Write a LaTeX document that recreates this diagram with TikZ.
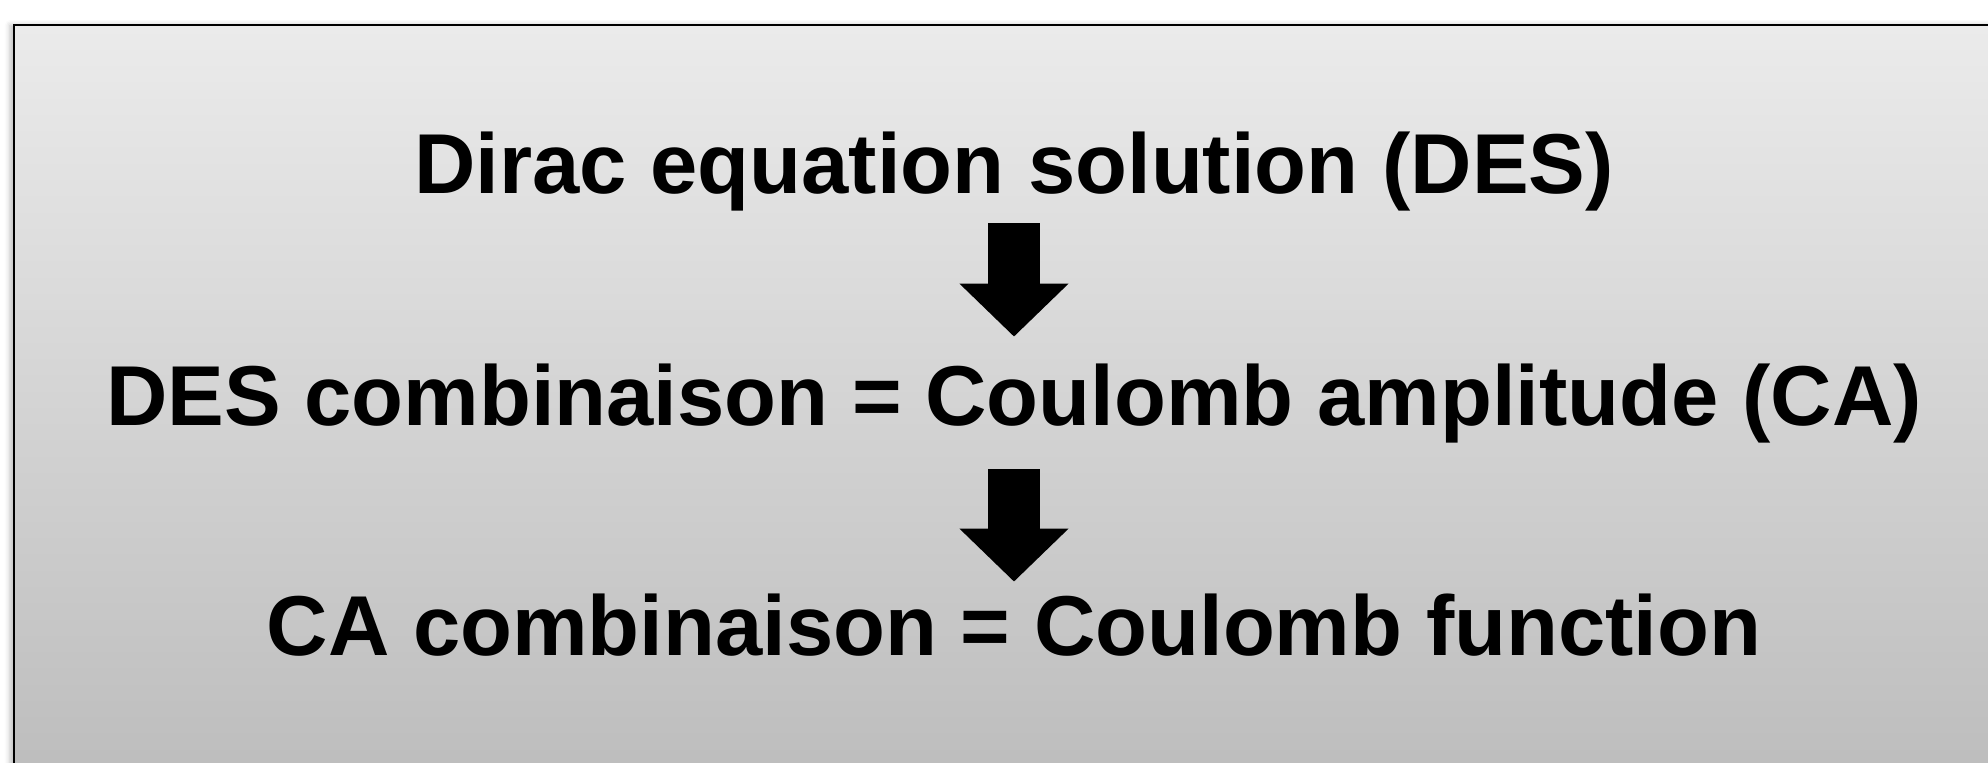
\documentclass[tikz,border=0pt]{standalone}
\usepackage{fontspec}
\setmainfont{Liberation Sans}
\usetikzlibrary{positioning,arrows.meta,shadows.blur}
\definecolor{panelTop}{HTML}{EBEBEB}
\definecolor{panelBottom}{HTML}{BCBCBC}
\definecolor{ink}{HTML}{000000}
\begin{document}
\begin{tikzpicture}[
    x=0.5pt, y=-0.5pt,
    every node/.style={font=\fontsize{42.5}{51}\selectfont\bfseries, text=ink},
    stepline/.style={inner sep=0pt, anchor=base, text height=32pt, text depth=10pt},
    panel/.style={draw=black, line width=1pt, top color=panelTop, bottom color=panelBottom,
                  blur shadow={shadow xshift=-2pt, shadow yshift=0pt,
                               shadow opacity=25, shadow blur radius=2.5pt}},
    blockarrow/.style={draw=black, line width=26pt,
                       -{Triangle[length=26.5pt,width=53pt]}},
]

\path[use as bounding box] (0,0) rectangle (1988,762);
\clip (0,0) rectangle (1988,762);

% --- Background panel ---
\path[panel] (14,25) rectangle (2010,790);

% --- The three steps ---
\node[stepline] (dirac) at (1014,193) {Dirac equation solution (DES)};
\node[stepline] (amplitude) at (1014,425) {DES combinaison = Coulomb amplitude (CA)};
\node[stepline] (coulomb) at (1014,655) {CA combinaison = Coulomb function};

% --- Block arrows between the steps ---
\draw[blockarrow, shorten <=5pt, shorten >=12pt] (dirac.south) -- (amplitude.north);
\draw[blockarrow, shorten <=12pt, shorten >=4.5pt] (amplitude.south) -- (coulomb.north);

\end{tikzpicture}
\end{document}
